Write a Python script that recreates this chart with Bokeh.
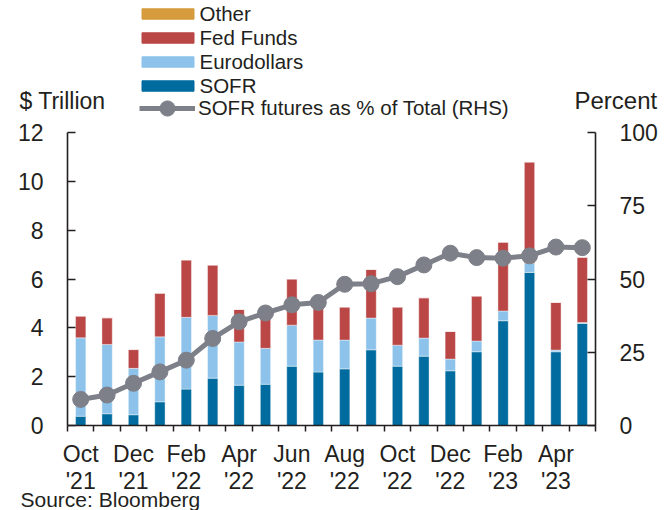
import numpy as np
from bokeh.plotting import figure
from bokeh.models import (ColumnDataSource, Range1d, LinearAxis, FixedTicker,
                          Legend, LegendItem, Label, Title)
from bokeh.embed import file_html
from bokeh.resources import INLINE

# ---------------- data ----------------
months = ["Oct '21", "Nov '21", "Dec '21", "Jan '22", "Feb '22", "Mar '22",
          "Apr '22", "May '22", "Jun '22", "Jul '22", "Aug '22", "Sep '22",
          "Oct '22", "Nov '22", "Dec '22", "Jan '23", "Feb '23", "Mar '23",
          "Apr '23", "May '23"]
sofr = [0.38, 0.48, 0.44, 0.97, 1.49, 1.94, 1.65, 1.69, 2.43, 2.19,
        2.32, 3.10, 2.43, 2.84, 2.24, 3.02, 4.29, 6.27, 3.02, 4.18]
eurodollars = [3.21, 2.84, 1.90, 2.66, 2.94, 2.57, 1.77, 1.47, 1.68, 1.31,
               1.18, 1.30, 0.86, 0.74, 0.48, 0.44, 0.40, 0.38, 0.07, 0.04]
fed_funds = [0.89, 1.09, 0.77, 1.79, 2.35, 2.06, 1.33, 1.24, 1.89, 1.71,
             1.35, 1.99, 1.56, 1.65, 1.13, 1.84, 2.82, 4.14, 1.95, 2.67]
other = [0.0] * 20
sofr_pct = [8.9, 10.4, 14.4, 18.3, 22.3, 29.7, 35.4, 38.4, 41.2, 42.0,
            48.2, 48.4, 50.8, 54.8, 58.8, 57.3, 57.1, 57.9, 60.9, 60.7]
tick_months = ["Oct\n'21", "Dec\n'21", "Feb\n'22", "Apr\n'22", "Jun\n'22",
               "Aug\n'22", "Oct\n'22", "Dec\n'22", "Feb\n'23", "Apr\n'23"]
left_ticks = [0, 2, 4, 6, 8, 10, 12]
right_ticks = [0, 25, 50, 75, 100]
series_names = ["SOFR", "Eurodollars", "FedFunds", "Other"]
legend_labels = ["SOFR", "Eurodollars", "Fed Funds", "Other"]

# ---------------- styles ----------------
C_SOFR = "#006B9E"
C_EURO = "#8DC3EA"
C_FF = "#BA4646"
C_OTHER = "#D59B3C"
C_LINE = "#7E8089"
COLORS = [C_SOFR, C_EURO, C_FF, C_OTHER]
TXT = "#231F20"
FONT = "Liberation Sans"
LEG_FS = "20.5px"

W = 666
TOP_H = 119
MAIN_H = 391

n = len(months)
xs = (np.arange(n) + 0.5).tolist()
src = ColumnDataSource(dict(x=xs, SOFR=sofr, Eurodollars=eurodollars,
                            FedFunds=fed_funds, Other=other, pct=sofr_pct))

# ---------------- main chart ----------------
p = figure(width=W, height=MAIN_H, output_backend="svg", toolbar_location=None,
           x_range=Range1d(0, n), y_range=Range1d(left_ticks[0], left_ticks[-1]),
           min_border_left=67, min_border_right=71, min_border_top=13,
           min_border_bottom=85)
p.extra_y_ranges = {"pct": Range1d(right_ticks[0], right_ticks[-1])}
p.outline_line_color = None
p.xgrid.visible = False
p.ygrid.visible = False

p.vbar_stack(series_names, x="x", width=0.39, source=src, color=COLORS,
             line_color="white", line_width=0.4)
p.line("x", "pct", source=src, y_range_name="pct", line_width=5, color=C_LINE)
p.scatter("x", "pct", source=src, y_range_name="pct", size=16, color=C_LINE)

xa = p.xaxis[0]
maj = xs[::2]
xa.ticker = FixedTicker(ticks=maj, minor_ticks=list(range(0, n + 1)))
xa.major_label_overrides = {m: t for m, t in zip(maj, tick_months)}
xa.major_tick_out = 0
xa.major_tick_in = 0
xa.minor_tick_out = 6
xa.minor_tick_in = 0
xa.minor_tick_line_color = TXT
xa.minor_tick_line_width = 1.5
xa.major_label_text_line_height = 1.05

ya = p.yaxis[0]
ya.ticker = FixedTicker(ticks=left_ticks)
ya.major_tick_in = 8
ya.major_tick_out = 0
ya.minor_tick_line_color = None

ra = LinearAxis(y_range_name="pct", ticker=FixedTicker(ticks=right_ticks))
ra.major_tick_in = 8
ra.major_tick_out = 0
ra.minor_tick_line_color = None
p.add_layout(ra, "right")

for ax in (xa, ya, ra):
    ax.axis_line_color = TXT
    ax.axis_line_width = 1.6
    ax.major_tick_line_color = TXT
    ax.major_tick_line_width = 1.6
    ax.major_label_text_font = FONT
    ax.major_label_text_font_size = "23px"
    ax.major_label_text_color = TXT
ya.major_label_standoff = 24
ra.major_label_standoff = 24
xa.major_label_standoff = 9

src_title = Title(text="Source: Bloomberg", align="left", offset=-47,
                  vertical_align="top", standoff=-18, text_font=FONT,
                  text_font_size="21px", text_font_style="normal",
                  text_color=TXT)
p.add_layout(src_title, "below")

# ---------------- header (legend + axis titles) ----------------
top = figure(width=W, height=TOP_H, output_backend="svg", toolbar_location=None,
             x_range=Range1d(0, W), y_range=Range1d(TOP_H, 0),
             x_axis_type=None, y_axis_type=None,
             min_border_left=0, min_border_right=0, min_border_top=0,
             min_border_bottom=0)
top.outline_line_color = None
top.xgrid.visible = False
top.ygrid.visible = False

# legend proxies (hidden renderers sharing the same data source)
proxies = top.vbar_stack(series_names, x="x", width=0.39, source=src,
                         color=COLORS, visible=False)
proxy_line = top.line("x", "pct", source=src, line_width=5, color=C_LINE,
                      visible=False)
proxy_sc = top.scatter("x", "pct", source=src, size=16, color=C_LINE,
                       visible=False)

bar_items = [LegendItem(label=lab, renderers=[r])
             for lab, r in zip(legend_labels, proxies)][::-1]
leg1 = Legend(items=bar_items, location=(134.5, TOP_H - 97.5), glyph_width=65,
              glyph_height=13, label_height=23, label_standoff=0, padding=0,
              spacing=0, margin=0, border_line_color=None,
              background_fill_alpha=0, label_text_font=FONT,
              label_text_font_size=LEG_FS, label_text_color=TXT)
leg2 = Legend(items=[LegendItem(label="SOFR futures as % of Total (RHS)",
                                renderers=[proxy_line, proxy_sc])],
              location=(139, TOP_H - 127), glyph_width=56, glyph_height=38,
              label_standoff=3, padding=0, spacing=0, margin=0,
              border_line_color=None, background_fill_alpha=0,
              label_text_font=FONT, label_text_font_size=LEG_FS,
              label_text_color=TXT)
top.add_layout(leg1)
top.add_layout(leg2)

top.add_layout(Label(x=19, y=113.8, text="$ Trillion", text_font=FONT,
                     text_font_size="23px", text_color=TXT))
top.add_layout(Label(x=574, y=113.5, text="Percent", text_font=FONT,
                     text_font_size="24px", text_color=TXT))

open("out.html", "w").write(file_html([top, p], INLINE))
